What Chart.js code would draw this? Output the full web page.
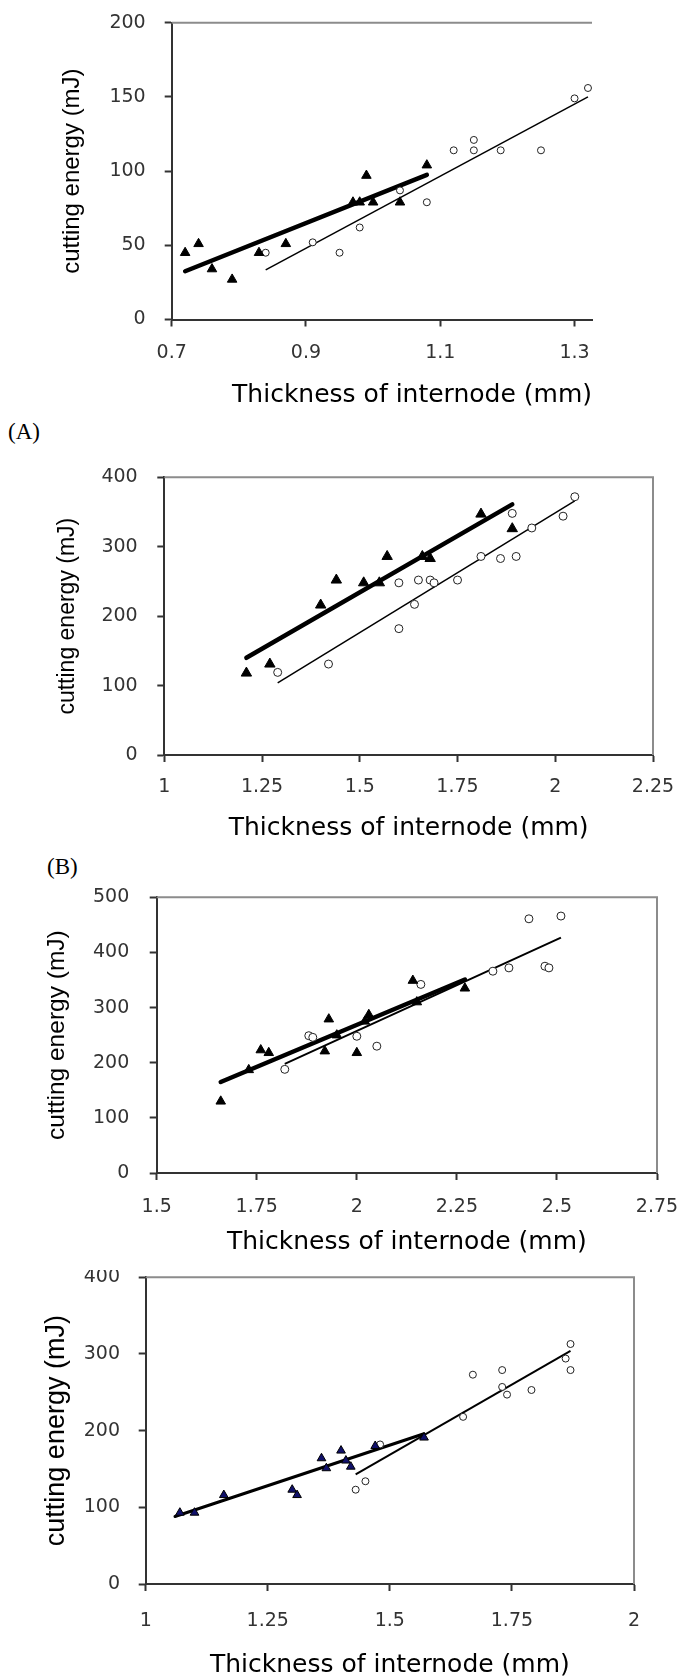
<!DOCTYPE html>
<html>
<head>
<meta charset="utf-8">
<script src="https://cdn.jsdelivr.net/npm/chart.js@4.4.1/dist/chart.umd.min.js"></script>
<style>
  html, body { margin: 0; padding: 0; background: #fff; }
  body { position: relative; width: 679px; height: 1678px; overflow: hidden; }
  canvas { position: absolute; left: 0; }
  .tag { position: absolute; font: 23px 'Liberation Serif', 'Times New Roman', serif; line-height: 1; color: #000; }
</style>
</head>
<body>
<div class="tag" style="left:8px;top:420px">(A)</div>
<div class="tag" style="left:47px;top:855px">(B)</div>
<canvas id="c1" width="679" height="430" style="top:0"></canvas>
<canvas id="c2" width="679" height="410" style="top:440px"></canvas>
<canvas id="c3" width="679" height="420" style="top:850px"></canvas>
<canvas id="c4" width="679" height="408" style="top:1270px"></canvas>
<script>
// panel 1 (top)
const p1XTicks = [0.7, 0.9, 1.1, 1.3];
const p1YTicks = [0, 50, 100, 150, 200];
const p1Tri = [[0.72, 45], [0.74, 51], [0.76, 34], [0.79, 27], [0.83, 45], [0.87, 51],
  [0.97, 79], [0.98, 79], [0.99, 97], [1.00, 79], [1.04, 79], [1.08, 104]];
const p1Circ = [[0.84, 45], [0.91, 52], [0.95, 45], [0.98, 62], [1.04, 87], [1.08, 79],
  [1.12, 114], [1.15, 121], [1.15, 114], [1.19, 114], [1.25, 114], [1.30, 149], [1.32, 156]];
const p1TriFit = [[0.72, 32.5], [1.08, 97.5]];
const p1CircFit = [[0.84, 33.5], [1.32, 150]];

// panel 2 (A)
const p2XTicks = [1, 1.25, 1.5, 1.75, 2, 2.25];
const p2YTicks = [0, 100, 200, 300, 400];
const p2Tri = [[1.21, 118], [1.27, 131], [1.40, 216], [1.44, 252], [1.51, 248], [1.55, 248],
  [1.57, 286], [1.66, 286], [1.68, 283], [1.81, 347], [1.89, 326]];
const p2Circ = [[1.29, 119], [1.42, 131], [1.60, 248], [1.60, 182], [1.64, 217], [1.65, 252],
  [1.68, 252], [1.69, 248], [1.75, 252], [1.81, 286], [1.86, 283], [1.90, 286], [1.89, 348],
  [1.94, 327], [2.02, 344], [2.05, 372]];
const p2TriFit = [[1.21, 140], [1.89, 361]];
const p2CircFit = [[1.29, 104], [2.05, 366]];

// panel 3 (B)
const p3XTicks = [1.5, 1.75, 2, 2.25, 2.5, 2.75];
const p3YTicks = [0, 100, 200, 300, 400, 500];
const p3Tri = [[1.66, 130], [1.73, 187], [1.76, 223], [1.78, 218], [1.92, 221], [1.93, 279],
  [1.95, 250], [2.00, 218], [2.02, 275], [2.03, 287], [2.14, 349], [2.15, 310], [2.27, 335]];
const p3Circ = [[1.82, 188], [1.88, 249], [1.89, 246], [2.00, 248], [2.05, 230], [2.16, 342],
  [2.34, 366], [2.38, 372], [2.43, 461], [2.47, 375], [2.48, 372], [2.51, 466]];
const p3TriFit = [[1.66, 165], [2.27, 351]];
const p3CircFit = [[1.82, 198], [2.51, 427]];

// panel 4 (bottom)
const p4XTicks = [1, 1.25, 1.5, 1.75, 2];
const p4YTicks = [0, 100, 200, 300, 400];
const p4Tri = [[1.07, 93], [1.10, 93], [1.16, 116], [1.30, 123], [1.31, 116], [1.36, 164],
  [1.37, 151], [1.40, 174], [1.41, 161], [1.42, 153], [1.47, 180], [1.57, 191]];
const p4Circ = [[1.43, 123], [1.45, 134], [1.48, 182], [1.65, 218], [1.67, 273], [1.73, 279],
  [1.73, 257], [1.74, 247], [1.79, 253], [1.86, 294], [1.87, 313], [1.87, 279]];
const p4TriFit = [[1.06, 88], [1.57, 196]];
const p4CircFit = [[1.43, 143], [1.87, 304]];

Chart.defaults.font.family = "'DejaVu Sans', sans-serif";

const pts = arr => arr.map(([x, y]) => ({x, y}));

// grey top (and right) edge of the plot box
const frame = {
  id: 'frame',
  beforeDatasetsDraw(chart, args, opts) {
    const {ctx, chartArea: a} = chart;
    ctx.save();
    ctx.strokeStyle = '#8c8c8c';
    ctx.lineWidth = 2;
    ctx.beginPath();
    ctx.moveTo(a.left, a.top);
    ctx.lineTo(a.right, a.top);
    if (opts.right) ctx.lineTo(a.right, a.bottom);
    ctx.stroke();
    ctx.restore();
  }
};

function panel(id, o) {
  return new Chart(document.getElementById(id), {
    type: 'scatter',
    data: {
      datasets: [
        { data: pts(o.tri), pointStyle: 'triangle', pointRadius: o.triR,
          pointBackgroundColor: o.triColor, pointBorderColor: '#000', pointBorderWidth: 1 },
        { data: pts(o.circ), pointStyle: 'circle', pointRadius: o.circR,
          pointBackgroundColor: '#fff', pointBorderColor: '#222', pointBorderWidth: 1 },
        { data: pts(o.triFit), showLine: true, pointRadius: 0, borderColor: '#000',
          borderWidth: o.thick, borderCapStyle: 'round' },
        { data: pts(o.circFit), showLine: true, pointRadius: 0, borderColor: '#000',
          borderWidth: o.thin }
      ]
    },
    options: {
      responsive: false,
      animation: false,
      events: [],
      layout: { padding: { top: o.padTop, right: o.padRight, left: 0, bottom: 0 } },
      plugins: {
        legend: { display: false },
        tooltip: { enabled: false },
        frame: { right: o.rightFrame }
      },
      scales: {
        x: {
          type: 'linear', min: o.xMin, max: o.xMax,
          afterBuildTicks: s => { s.ticks = o.xTicks.map(v => ({value: v})); },
          afterFit: s => { s.height = o.xAxisH; s.paddingLeft = 0; s.paddingRight = 0; },
          ticks: { callback: v => String(v), color: '#333', autoSkip: false, maxRotation: 0,
            font: { size: 19, lineHeight: 1 }, padding: o.xPad },
          grid: { drawOnChartArea: false, tickLength: 7, tickWidth: 2, color: '#333' },
          border: { color: '#333', width: 2 },
          title: { display: true, text: 'Thickness of internode (mm)', color: '#000',
            align: o.xTitleAlign, font: { size: 25, lineHeight: 1 },
            padding: { top: 0, bottom: o.xTitlePad } }
        },
        y: {
          type: 'linear', min: o.yTicks[0], max: o.yTicks[o.yTicks.length - 1],
          afterBuildTicks: s => { s.ticks = o.yTicks.map(v => ({value: v})); },
          afterFit: s => { s.width = o.yAxisW; s.paddingTop = 0; s.paddingBottom = 0; },
          ticks: { callback: v => String(v), color: '#333', autoSkip: false,
            font: { size: 19, lineHeight: 1 }, padding: o.yPad },
          grid: { drawOnChartArea: false, tickLength: 7, tickWidth: 2, color: '#333' },
          border: { color: '#333', width: 2 },
          title: { display: true, text: 'cutting energy (mJ)', color: '#000',
            font: { family: "'Liberation Sans', Arial, sans-serif", size: o.yTitleSize, lineHeight: 1 },
            padding: { top: o.yTitlePad, bottom: 0 } }
        }
      }
    },
    plugins: [frame]
  });
}

panel('c1', {
  tri: p1Tri, circ: p1Circ, triFit: p1TriFit, circFit: p1CircFit,
  xTicks: p1XTicks, yTicks: p1YTicks, xMin: 0.7, xMax: 1.326,
  triColor: '#000', triR: 5.5, circR: 3.5, thick: 4.5, thin: 1.5,
  padTop: 22.7, padRight: 87, xAxisH: 110.5, yAxisW: 171.7,
  xPad: 17.3, yPad: 19, xTitlePad: 22.5, xTitleAlign: 'end',
  yTitleSize: 24, yTitlePad: 60, rightFrame: false
});

panel('c2', {
  tri: p2Tri, circ: p2Circ, triFit: p2TriFit, circFit: p2CircFit,
  xTicks: p2XTicks, yTicks: p2YTicks, xMin: 1, xMax: 2.25,
  triColor: '#000', triR: 6, circR: 4, thick: 4.5, thin: 1.5,
  padTop: 37.3, padRight: 26, xAxisH: 95, yAxisW: 164.3,
  xPad: 15.2, yPad: 19.6, xTitlePad: 9.2, xTitleAlign: 'center',
  yTitleSize: 23, yTitlePad: 56.5, rightFrame: true
});

panel('c3', {
  tri: p3Tri, circ: p3Circ, triFit: p3TriFit, circFit: p3CircFit,
  xTicks: p3XTicks, yTicks: p3YTicks, xMin: 1.5, xMax: 2.75,
  triColor: '#000', triR: 5.5, circR: 4, thick: 4.5, thin: 2,
  padTop: 47.3, padRight: 22, xAxisH: 97, yAxisW: 156.7,
  xPad: 17.2, yPad: 20.4, xTitlePad: 14.8, xTitleAlign: 'center',
  yTitleSize: 24.5, yTitlePad: 45.2, rightFrame: true
});

panel('c4', {
  tri: p4Tri, circ: p4Circ, triFit: p4TriFit, circFit: p4CircFit,
  xTicks: p4XTicks, yTicks: p4YTicks, xMin: 1, xMax: 2,
  triColor: '#10106a', triR: 5, circR: 3.5, thick: 3, thin: 2,
  padTop: 7.3, padRight: 45, xAxisH: 94, yAxisW: 145.7,
  xPad: 20.2, yPad: 18.7, xTitlePad: 0.5, xTitleAlign: 'center',
  yTitleSize: 27, yTitlePad: 43.2, rightFrame: true
});
</script>
</body>
</html>
